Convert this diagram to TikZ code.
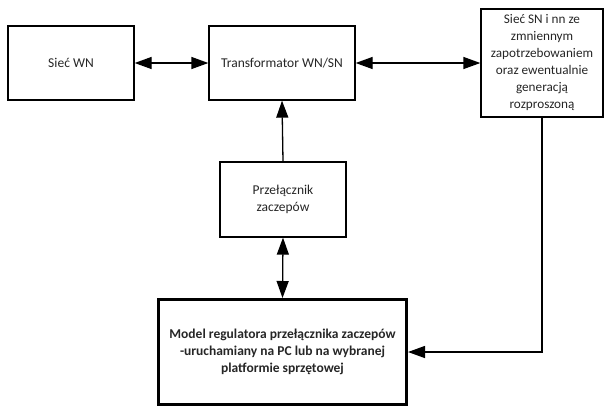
\documentclass[tikz,border=0pt]{standalone}
\usepackage{fontspec}
\setmainfont{Carlito}
\usetikzlibrary{arrows.meta}
\begin{document}
\begin{tikzpicture}[x=1pt,y=-1pt,
  box/.style={draw=black,line width=1.3pt,align=center,inner sep=0pt,font=\fontsize{13.5}{17}\selectfont,text=black!85},
  conn/.style={line width=1.3pt,draw=black},
  >={Triangle[length=17pt,width=12pt]}]
\useasboundingbox (0,0) rectangle (604,408);
\node[box,minimum width=126pt,minimum height=74pt] (wn) at (71,63) {Sieć WN};
\node[box,minimum width=146pt,minimum height=74pt] (tr) at (282,63) {Transformator WN/SN};
\node[box,minimum width=122pt,minimum height=108pt,font=\fontsize{13.2}{17}\selectfont] (sn) at (542,63) {Sieć SN i nn ze\\zmniennym\\zapotrzebowaniem\\oraz ewentualnie\\generacją\\rozproszoną};
\node[box,minimum width=126pt,minimum height=75pt] (pz) at (283,199.5) {Przełącznik\\zaczepów};
\node[box,line width=3pt,minimum width=248pt,minimum height=105pt,font=\bfseries\fontsize{13.5}{16.7}\selectfont] (md) at (282.5,352) {Model regulatora przełącznika zaczepów\\-uruchamiany na PC lub na wybranej\\platformie sprzętowej};
\draw[conn,<->] (wn.east) -- (tr.west);
\draw[conn,<->] (tr.east) -- (sn.west);
\draw[conn,->] (pz.north) -- (tr.south);
\draw[conn,<->] (pz.south) -- (md.north);
\draw[conn,->] (sn.south) |- (md.east);
\end{tikzpicture}
\end{document}
